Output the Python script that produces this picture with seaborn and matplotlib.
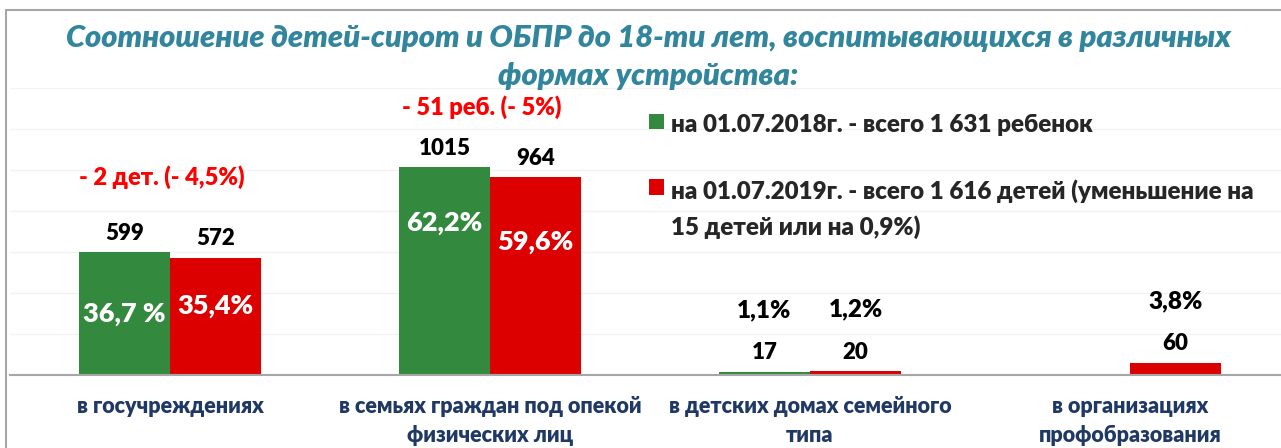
import matplotlib
matplotlib.use("Agg")
import matplotlib.pyplot as plt
from matplotlib.patches import Rectangle
import seaborn as sns
import pandas as pd
import numpy as np

# ---------------- data ----------------
categories = ["в госучреждениях",
              "в семьях граждан под опекой\nфизических лиц",
              "в детских домах семейного\nтипа",
              "в организациях\nпрофобразования"]
series_names = ["на 01.07.2018г. - всего 1 631 ребенок",
                "на 01.07.2019г. - всего 1 616 детей (уменьшение на\n15 детей или на 0,9%)"]
values_2018 = [599, 1015, 17, 0]
values_2019 = [572, 964, 20, 60]
pct_2018 = ["36,7 %", "62,2%", "1,1%", ""]
pct_2019 = ["35,4%", "59,6%", "1,2%", "3,8%"]
change_labels = ["- 2 дет. (- 4,5%)", "- 51 реб. (- 5%)", "", ""]
title = ("Соотношение детей-сирот и ОБПР до 18-ти лет, воспитывающихся в различных\n"
         "формах устройства:")

# ---------------- style ----------------
GREEN = "#338A3E"
RED = "#DD0000"
TEAL = "#31859C"
NAVY = "#1F3864"
GRAY = "#A6A6A6"
FONT = "Lato"
WEIGHT = "heavy"
inside_frac = [[0.50, 0.73], [0.59, 0.675]]   # vertical placement of % inside tall bars
change_y = [966, 1305]                        # y of red change annotations (data units)

sns.set_theme(style="white")
plt.rcParams["font.family"] = [FONT, "DejaVu Sans"]

df = pd.DataFrame({
    "cat": categories * 2,
    "value": values_2018 + values_2019,
    "series": [series_names[0]] * 4 + [series_names[1]] * 4,
})

W, H, DPI = 1281, 448, 100
fig = plt.figure(figsize=(W / DPI, H / DPI), dpi=DPI)
base_y = 375
px_per_unit = 0.205
ymax = 1400
ax = fig.add_axes([10 / W, (H - base_y) / H, 1280 / W, ymax * px_per_unit / H])

sns.barplot(data=df, x="cat", y="value", hue="series", order=categories,
            hue_order=series_names, palette=[GREEN, RED], saturation=1,
            width=0.57, gap=0, ax=ax, edgecolor="none", linewidth=0)

ax.set_xlim(-0.5, 3.5)
ax.set_ylim(0, ymax)
ax.set_xlabel("")
ax.set_ylabel("")
ax.set_yticks(np.arange(200, ymax + 1, 200))
ax.set_yticklabels([])
ax.tick_params(axis="y", length=0)
ax.grid(axis="y", color="#F2F2F2", linewidth=1)
ax.set_axisbelow(True)
for s in ["top", "right", "left"]:
    ax.spines[s].set_visible(False)
ax.spines["bottom"].set_color(GRAY)
ax.spines["bottom"].set_linewidth(1.5)

ax.set_xticks(range(len(categories)))
ax.set_xticklabels(categories, fontsize=15.5, fontweight=WEIGHT, color=NAVY,
                   linespacing=1.5, va="top")
ax.tick_params(axis="x", length=0, pad=15)
ax.set_xticks(np.arange(-0.5, len(categories), 1.0), minor=True)
ax.tick_params(axis="x", which="minor", length=5, color=GRAY, width=1.5)

# value labels and percent labels
pcts = [pct_2018, pct_2019]
vals = [values_2018, values_2019]
for si, cont in enumerate(ax.containers):
    labels = [str(v) if v > 0 else "" for v in vals[si]]
    ax.bar_label(cont, labels=labels, padding=6, fontsize=16, fontweight=WEIGHT,
                 color="black")
    for ci, patch in enumerate(cont.patches):
        v = vals[si][ci]
        p = pcts[si][ci]
        if not p:
            continue
        xc = patch.get_x() + patch.get_width() / 2
        if v > 200:
            ax.text(xc, v * inside_frac[si][ci], p, ha="center", va="center",
                    fontsize=19.5, fontweight=WEIGHT, color="white")
        else:
            ax.annotate(p, (xc, v), xytext=(0, 44), textcoords="offset points",
                        ha="center", va="center", fontsize=17.5,
                        fontweight=WEIGHT, color="black")

for ci, lab in enumerate(change_labels):
    if lab:
        ax.text(ci - 0.025, change_y[ci], lab, ha="center", va="center",
                fontsize=17, fontweight=WEIGHT, color="#FF0000")

# legend
handles, labels = ax.get_legend_handles_labels()
leg = ax.legend(handles, labels, loc="upper left",
                bbox_to_anchor=(649 / W, 1 - 114 / H),
                bbox_transform=fig.transFigure, frameon=False,
                handlelength=0.6, handleheight=0.6, handletextpad=0.3,
                labelspacing=1.8, borderpad=0, borderaxespad=0,
                prop={"family": [FONT, "DejaVu Sans"], "weight": WEIGHT,
                      "size": 17.4})
for t in leg.get_texts():
    t.set_linespacing(1.6)
try:
    for col in leg._legend_handle_box.get_children():
        for row in col.get_children():
            row.align = "top"
except Exception:
    pass

# title
fig.text(648 / W, 1 - 57 / H, title, ha="center", va="center",
         fontsize=22.2, fontweight=WEIGHT, fontstyle="italic", color=TEAL,
         linespacing=1.4)

# figure border (cropped at right/bottom)
fig.patches.append(Rectangle((6 / W, -0.2), 2.0, 1.2 - 10 / H,
                             transform=fig.transFigure, fill=False,
                             edgecolor=GRAY, linewidth=1.5))

fig.savefig("out.png", dpi=DPI, facecolor="white")
